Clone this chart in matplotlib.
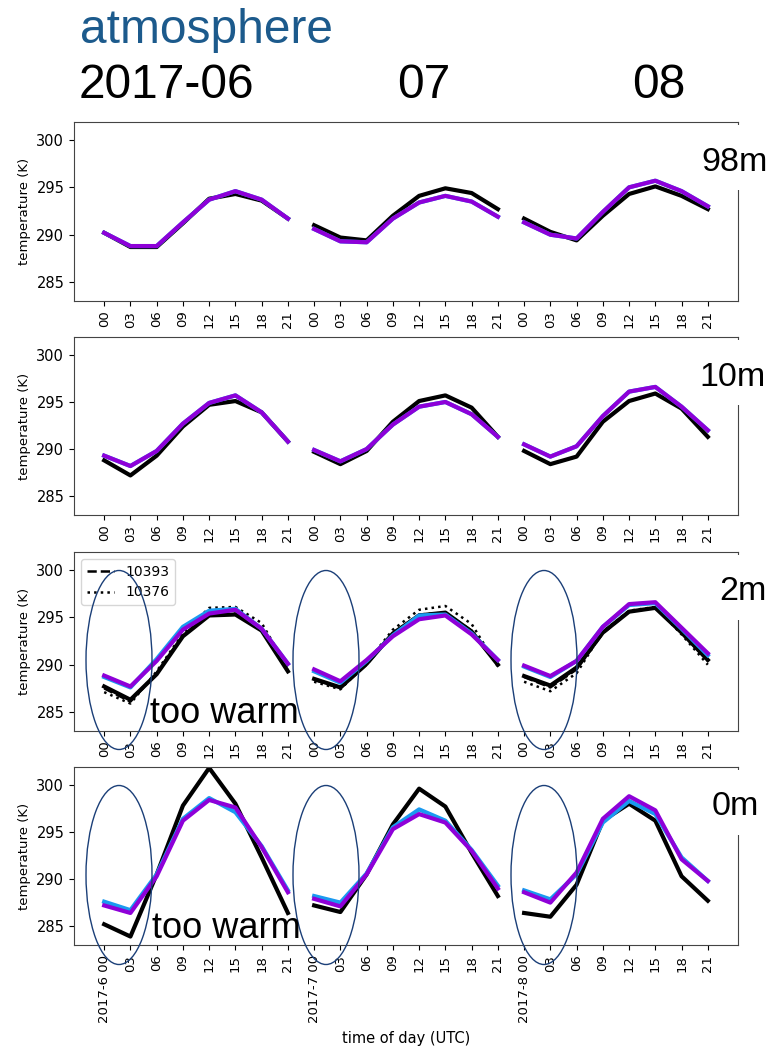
import matplotlib
matplotlib.use('Agg')
import matplotlib.pyplot as plt
from matplotlib.patches import Ellipse, Rectangle

hours = ['00', '03', '06', '09', '12', '15', '18', '21']
months = ['2017-6', '2017-7', '2017-8']
levels = ['98m', '10m', '2m', '0m']

# temperature (K), June / July / August mean diurnal cycle
obs_98m = [290.2, 288.7, 288.7, 291.2, 293.8, 294.3, 293.6, 291.7,
           291.0, 289.7, 289.4, 292.0, 294.1, 294.9, 294.4, 292.7,
           291.7, 290.3, 289.4, 292.0, 294.3, 295.1, 294.1, 292.7]
blue_98m = [290.2, 288.8, 288.8, 291.3, 293.7, 294.6, 293.7, 291.7,
            290.6, 289.3, 289.2, 291.7, 293.4, 294.1, 293.5, 291.9,
            291.3, 290.0, 289.6, 292.4, 295.0, 295.7, 294.6, 293.0]
purple_98m = [290.2, 288.8, 288.8, 291.3, 293.7, 294.6, 293.7, 291.7,
              290.6, 289.3, 289.2, 291.7, 293.4, 294.1, 293.5, 291.9,
              291.3, 290.0, 289.6, 292.4, 295.0, 295.7, 294.6, 293.0]

obs_10m = [288.8, 287.2, 289.3, 292.4, 294.7, 295.1, 293.9, 290.8,
           289.7, 288.4, 289.8, 292.9, 295.1, 295.7, 294.4, 291.3,
           289.8, 288.4, 289.2, 292.9, 295.1, 295.9, 294.3, 291.3]
blue_10m = [289.3, 288.2, 289.8, 292.7, 294.9, 295.7, 293.9, 290.8,
            289.9, 288.7, 290.0, 292.6, 294.5, 295.0, 293.7, 291.3,
            290.5, 289.2, 290.3, 293.5, 296.1, 296.6, 294.5, 292.0]
purple_10m = [289.3, 288.2, 289.8, 292.7, 294.9, 295.7, 293.9, 290.8,
              289.9, 288.7, 290.0, 292.6, 294.5, 295.0, 293.7, 291.3,
              290.5, 289.2, 290.3, 293.5, 296.1, 296.6, 294.5, 292.0]

obs_2m = [287.7, 286.3, 289.0, 293.0, 295.2, 295.3, 293.6, 289.3,
          288.5, 287.6, 290.1, 293.3, 295.2, 295.5, 293.5, 290.0,
          288.8, 287.8, 289.7, 293.4, 295.6, 296.0, 293.4, 290.5]
st10393_2m = [287.5, 286.1, 289.1, 293.1, 295.3, 295.4, 293.7, 289.4,
              288.4, 287.5, 290.0, 293.3, 295.3, 295.5, 293.6, 290.0,
              288.7, 287.6, 289.5, 293.3, 295.6, 296.0, 293.4, 290.4]
st10376_2m = [287.1, 285.9, 289.3, 293.3, 296.0, 296.1, 294.4, 289.6,
              288.2, 287.4, 290.2, 293.7, 295.8, 296.2, 294.3, 289.8,
              288.2, 287.2, 289.1, 293.5, 295.7, 296.1, 293.2, 290.0]
blue_2m = [288.7, 287.6, 290.6, 294.0, 295.7, 295.9, 293.8, 290.1,
           289.3, 288.1, 290.4, 293.1, 295.2, 295.3, 293.3, 290.5,
           289.8, 288.7, 290.4, 294.0, 296.3, 296.5, 293.8, 291.0]
purple_2m = [288.85, 287.7, 290.4, 293.7, 295.4, 295.8, 293.8, 290.1,
             289.5, 288.25, 290.5, 293.0, 294.8, 295.2, 293.2, 290.5,
             289.9, 288.8, 290.4, 294.0, 296.4, 296.6, 293.9, 291.2]

obs_0m = [285.2, 283.9, 290.5, 297.8, 301.8, 298.0, 292.3, 286.4,
          287.2, 286.5, 290.5, 295.8, 299.6, 297.7, 292.8, 288.2,
          286.4, 286.0, 289.4, 296.2, 298.0, 296.2, 290.3, 287.7]
blue_0m = [287.6, 286.7, 290.5, 296.4, 298.6, 297.1, 293.5, 288.8,
           288.2, 287.5, 290.6, 295.5, 297.4, 296.2, 293.1, 289.3,
           288.8, 287.85, 290.5, 296.0, 298.3, 296.9, 292.3, 289.8]
purple_0m = [287.2, 286.4, 290.3, 296.2, 298.4, 297.6, 293.4, 288.6,
             287.9, 287.1, 290.5, 295.3, 296.9, 296.0, 293.0, 289.0,
             288.6, 287.5, 290.7, 296.4, 298.8, 297.3, 292.1, 289.8]

obs = [obs_98m, obs_10m, obs_2m, obs_0m]
blue = [blue_98m, blue_10m, blue_2m, blue_0m]
purple = [purple_98m, purple_10m, purple_2m, purple_0m]

BLUE = '#1a9af0'
PURPLE = '#8e00d8'
NAVY = '#1b3f78'

fig = plt.figure(figsize=(7.77, 10.55), dpi=100)
W, H = 777, 1055
# axes boxes in pixels: top, bottom
boxes = [(122, 301), (337, 515), (552, 731), (767, 945)]

axes = []
for i, (top, bot) in enumerate(boxes):
    ax = fig.add_axes([74 / W, 1 - bot / H, (738 - 74) / W, (bot - top) / H])
    for m in range(3):
        x = list(range(m * 8, m * 8 + 8))
        seg = slice(m * 8, m * 8 + 8)
        ax.plot(x, obs[i][seg], color='black', lw=3)
        if i == 2:
            ax.plot(x, st10393_2m[seg], color='black', ls='--', lw=1.8,
                    label='10393' if m == 0 else None)
            ax.plot(x, st10376_2m[seg], color='black', ls=':', lw=1.8,
                    label='10376' if m == 0 else None)
        ax.plot(x, blue[i][seg], color=BLUE, lw=3)
        ax.plot(x, purple[i][seg], color=PURPLE, lw=3)
    ax.set_ylim(283, 301.9)
    ax.set_yticks([285, 290, 295, 300])
    ax.tick_params(axis='y', labelsize=10.5)
    ax.set_ylabel('temperature (K)', fontsize=9.5)
    labels = hours * 3
    if i == 3:
        for m in range(3):
            labels[m * 8] = months[m] + ' 00'
        ax.set_xlabel('time of day (UTC)', fontsize=10.5, labelpad=6)
    ax.set_xticks(range(24))
    ax.set_xticklabels(labels, rotation=90, fontsize=9.5)
    for s in ax.spines.values():
        s.set_color('#444444')
    if i == 2:
        ax.legend(loc='upper left', fontsize=10, handlelength=2)
    axes.append(ax)

# overlay for the slide annotations (pixel coordinates)
ov = fig.add_axes([0, 0, 1, 1])
ov.set_xlim(0, W)
ov.set_ylim(H, 0)
ov.axis('off')
ov.patch.set_alpha(0)

font = 'Liberation Sans'
ov.text(80, 43, 'atmosphere', fontsize=34.5, color='#1c5a8c', family=font, va='baseline')
ov.text(79, 98, '2017-06', fontsize=34.5, family=font, va='baseline')
ov.text(397, 98, '07', fontsize=34.5, family=font, va='baseline')
ov.text(632, 98, '08', fontsize=34.5, family=font, va='baseline')

label_y = [171, 386, 600, 815]
label_x = [701, 699, 719, 712]
for i, (top, bot) in enumerate(boxes):
    ov.add_patch(Rectangle((700, top + 3), 77, 65, facecolor='white', edgecolor='none'))
    ov.text(label_x[i], label_y[i], levels[i], fontsize=24.5, family=font, va='baseline')

for yc in [660, 875]:
    for xc in [119, 326, 544]:
        ov.add_patch(Ellipse((xc, yc), 66, 179, fill=False, edgecolor=NAVY, lw=1.0))

ov.text(150, 723, 'too warm', fontsize=26, family=font, va='baseline')
ov.text(152, 938, 'too warm', fontsize=26, family=font, va='baseline')

plt.savefig('out.png', dpi=100)
